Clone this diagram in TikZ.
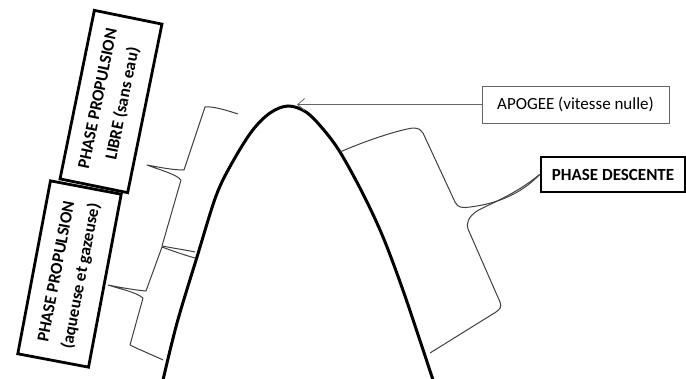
\documentclass[tikz,border=0pt]{standalone}
\usepackage{fontspec}
\setmainfont{Carlito}
\usetikzlibrary{arrows.meta}
\tikzset{
  thickbox/.style={draw=black, line width=2.8pt, align=center, inner sep=2pt, font=\fontsize{17}{25}\selectfont\bfseries},
  thinbox/.style={draw=black!60, line width=0.8pt, align=center, font=\fontsize{17}{21}\selectfont},
  bracket/.style={draw=black!75, line width=1pt, line join=round},
  traj/.style={draw=black, line width=3pt, line cap=round},
  pointer/.style={draw=black!60, line width=0.8pt, -{Straight Barb[length=7pt,width=12pt]}}
}
\begin{document}
\begin{tikzpicture}[x=1pt,y=-1pt]
\useasboundingbox[fill=white] (0,0) rectangle (686,378);

% boxes
\node[thickbox, rotate=78.5, minimum width=172pt, minimum height=69pt] (libre) at (111,101.5) {PHASE PROPULSION\\LIBRE (sans eau)};
\node[thickbox, rotate=79.3, minimum width=176pt, minimum height=72pt] (aqueuse) at (69.5,274) {PHASE PROPULSION\\(aqueuse et gazeuse)};
\node[thickbox, minimum width=144pt, minimum height=35pt] (descente) at (613,174.5) {PHASE DESCENTE};
\node[thinbox, minimum width=187pt, minimum height=37pt] (apogee) at (575.5,104.5) {APOGEE (vitesse nulle)};

% trajectory
\draw[traj] plot[smooth, tension=0.55] coordinates {(163,380) (177,323) (197,257) (216,196) (232,163) (252,131) (270,113) (288,106) (306,112) (323,129) (340,152) (362,192) (383,237) (405,296) (433,380)};

% apogee pointer
\coordinate (apex) at (297,104.5);
\draw[pointer] (apogee.west) -- (apex);

% upper left brace
\coordinate (tipA) at (147,165);
\draw[bracket] (238,114) .. controls (226,110) and (212,106) .. (205,107)
  -- (184,170) .. controls (172,170) and (158,167) .. (tipA)
  .. controls (160,170) and (176,174) .. (181,180)
  -- (162,246) .. controls (172,248) and (186,250) .. (195,252);

% lower left brace
\coordinate (tipB) at (108,285);
\draw[bracket] (195,258) .. controls (184,255) and (170,250) .. (162,247)
  -- (146,291) .. controls (134,290) and (118,287) .. (tipB)
  .. controls (120,289) and (136,292) .. (143,298)
  -- (130,345) .. controls (140,350) and (155,356) .. (163,360);

% right brace
\draw[bracket] (340,152) .. controls (365,141) and (398,130) .. (413,128)
  .. controls (419,128) and (421,130) .. (423,133)
  -- (455,202) .. controls (458,208) and (462,208) .. (470,207)
  .. controls (495,204) and (520,195) .. (descente.west);
\draw[bracket] (descente.west) .. controls (515,195) and (485,206) .. (477,211)
  .. controls (468,217) and (466,224) .. (468,229)
  -- (500,302) .. controls (502,307) and (500,309) .. (496,312)
  -- (430,353);
\end{tikzpicture}
\end{document}
